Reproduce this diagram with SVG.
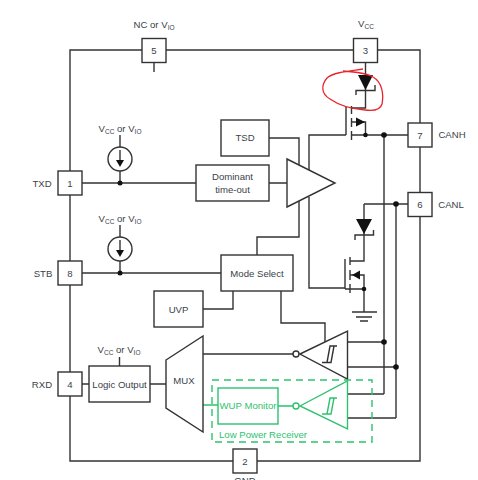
<svg xmlns="http://www.w3.org/2000/svg" width="478" height="480" viewBox="0 0 478 480">
<style>
.w{fill:none;stroke:#333;stroke-width:1.4}
.b{fill:#fff;stroke:#333;stroke-width:1.4}
.k{fill:#111;stroke:none}
.g{fill:none;stroke:#2ec26f;stroke-width:1.4}
.gb{fill:#fff;stroke:#2ec26f;stroke-width:1.4}
text{font-family:"Liberation Sans",Arial,sans-serif;font-size:9.600px;fill:#3a3f4a;text-anchor:middle}
.s{font-size:6.500px}
.gt{fill:#2ec26f}
</style>
<rect width="478" height="480" fill="#fff"/>
<g id="connectors">
<path class="w" d="M154 50H70V461H233M257 461H420V50H366M154 50H354M154 63V72"/>
<path class="w" d="M82 183H196M120 135V147M120 171V183M269 183H287M269 138H299V166"/>
<path class="w" d="M82 273H221M120 225V237M120 261V273M203 309H233V291M257 255V237H299V200"/>
<path class="w" d="M309 170V135H346M309 197V288H345"/>
<path class="w" d="M82 384H89M119.500 357V366M150 384H166M203 354H293"/>
<path class="w" d="M281 291V323H325V342"/>
<path class="w" d="M348 342H384M348 367H396M348 394H384M348 418H396M384 135V394M396 204V418"/>
<path class="w" d="M365.500 63V108H352M352 135H408M352 122H365.500V135"/>
<path class="w" d="M364 204H408M364 204V261H350M350 289H364V312M350 275H364V289M345 289H350"/>
<path class="w" d="M352 312H377M356 317H372M360 321H368"/>
<path class="w" d="M346 107V135M345 259V289"/>
<path class="g" d="M203 405H218M278 406H293"/>
<g class="k">
<circle cx="120" cy="183" r="2.500"/><circle cx="120" cy="273" r="2.500"/>
<circle cx="365.500" cy="135" r="2.300"/><circle cx="384" cy="135" r="2.800"/>
<circle cx="396" cy="204" r="2.800"/><circle cx="364" cy="289" r="2.300"/>
<circle cx="384" cy="342" r="2.800"/><circle cx="396" cy="367" r="2.800"/>
</g>
</g>
<g id="pin5"><rect class="b" x="142" y="38.500" width="24" height="24"/><text x="154" y="54">5</text><text x="154" y="28">NC or V<tspan class="s" dy="2">IO</tspan></text></g>
<g id="pin3"><rect class="b" x="353.500" y="38.500" width="24" height="24"/><text x="365.500" y="54">3</text><text x="366" y="27">V<tspan class="s" dy="2">CC</tspan></text></g>
<g id="pin7"><rect class="b" x="408" y="123" width="24" height="24"/><text x="420" y="138.500">7</text><text x="452" y="138">CANH</text></g>
<g id="pin6"><rect class="b" x="408" y="192.500" width="24" height="24"/><text x="420" y="208">6</text><text x="451" y="208">CANL</text></g>
<g id="pin1"><rect class="b" x="58" y="171" width="24" height="24"/><text x="70" y="186.500">1</text><text x="42" y="186.500">TXD</text></g>
<g id="pin8"><rect class="b" x="58" y="261" width="24" height="24"/><text x="70" y="276.500">8</text><text x="43" y="276.500">STB</text></g>
<g id="pin4"><rect class="b" x="58" y="372" width="24" height="24"/><text x="70" y="387.500">4</text><text x="42" y="387.500">RXD</text></g>
<g id="pin2"><rect class="b" x="233" y="449" width="24" height="24"/><text x="245" y="464.500">2</text><text x="245" y="484">GND</text></g>
<g id="source1"><circle class="b" cx="120" cy="159" r="12"/><path class="w" d="M120 150V162"/><path class="k" d="M116 160H124L120 167Z"/><text x="120" y="132">V<tspan class="s" dy="2">CC</tspan><tspan dy="-2"> or V</tspan><tspan class="s" dy="2">IO</tspan></text></g>
<g id="source2"><circle class="b" cx="120" cy="249" r="12"/><path class="w" d="M120 240V252"/><path class="k" d="M116 250H124L120 257Z"/><text x="120" y="222">V<tspan class="s" dy="2">CC</tspan><tspan dy="-2"> or V</tspan><tspan class="s" dy="2">IO</tspan></text></g>
<g id="tsd"><rect class="b" x="221" y="120" width="48" height="36"/><text x="245" y="141">TSD</text></g>
<g id="dominant"><rect class="b" x="196" y="165" width="73" height="36"/><text x="232.500" y="180">Dominant</text><text x="232.500" y="193">time-out</text></g>
<g id="driver"><path class="b" d="M287 159L335 183L287 207Z"/></g>
<g id="mode"><rect class="b" x="221" y="255" width="72" height="36"/><text x="257" y="276.500">Mode Select</text></g>
<g id="uvp"><rect class="b" x="154" y="291" width="49" height="36"/><text x="178.500" y="312.500">UVP</text></g>
<g id="logic"><rect class="b" x="89" y="366" width="61" height="36"/><text x="119.500" y="387.500">Logic Output</text><text x="119" y="353">V<tspan class="s" dy="2">CC</tspan><tspan dy="-2"> or V</tspan><tspan class="s" dy="2">IO</tspan></text></g>
<g id="mux"><path class="b" d="M166 360L203 336V432L166 408Z"/><text x="184" y="384">MUX</text></g>
<g id="hs-fet">
<path class="w" d="M351.500 106V114M351.500 118V127M351.500 131V140"/>
<path class="k" d="M356 117.500L365 122L356 126.500Z"/>
<path class="k" d="M358 75H373L365.500 90Z"/>
<path class="w" d="M356 95V90.500H375V85"/>
</g>
<g id="ls-fet">
<path class="w" d="M350 257V265M350 270V280M350 284V293"/>
<path class="k" d="M352 275L360 270.500V279.500Z"/>
<path class="k" d="M356 219H372L364 234Z"/>
<path class="w" d="M355 240V235H373.500V230"/>
</g>
<g id="receiver"><path class="b" d="M300 354L347.500 331V379Z"/><circle class="b" cx="296" cy="354" r="3"/><path class="w" d="M322 362.500H331L334 346H337M327 362.500L330 346H334"/></g>
<g id="lp-receiver">
<rect x="212" y="380" width="160" height="62" fill="none" stroke="#2ec26f" stroke-width="1.400" stroke-dasharray="7 5"/>
<text class="gt" x="263" y="438">Low Power Receiver</text>
</g>
<g id="wup"><rect class="gb" x="218" y="388" width="60" height="36"/><text class="gt" x="248" y="408.500">WUP Monitor</text></g>
<g id="lp-comp"><path class="gb" d="M300 406L347.500 381V429Z"/><circle class="gb" cx="296" cy="406" r="3"/><path class="g" d="M322 414H331L334 398H337M327 414L330 398H334"/></g>
<path id="scribble" fill="none" stroke="#e8242c" stroke-width="1.300" d="M363 69C350 71 334 72 327 78C321 85 321 94 330 99C340 106 352 109 365 110C372 111 380 111 382 104C384 94 382 82 373 77C368 74 358 72 343 71"/>
</svg>
